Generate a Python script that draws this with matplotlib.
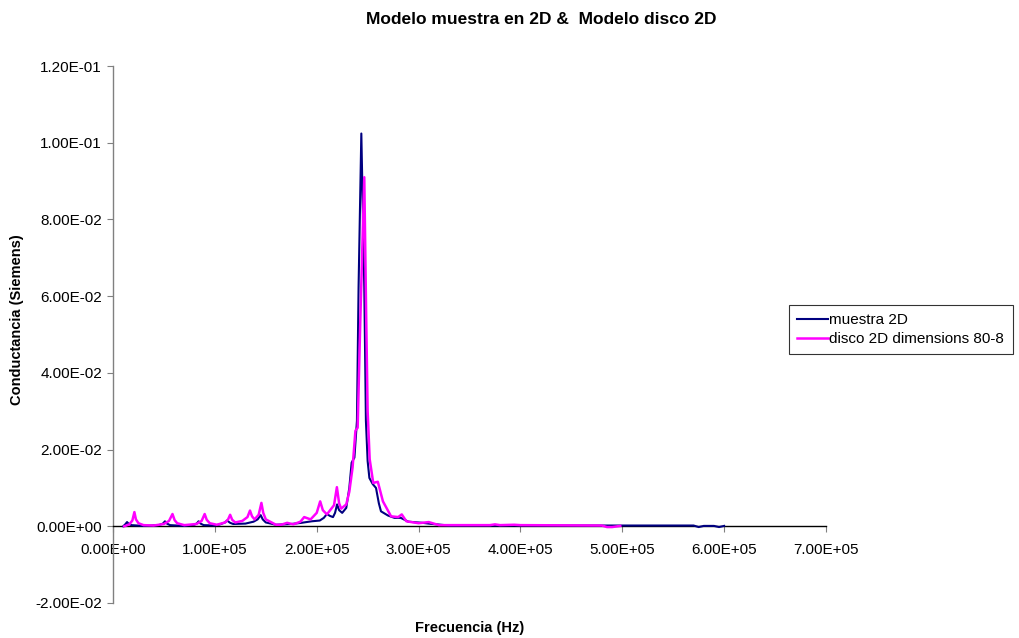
import matplotlib
matplotlib.use("Agg")
import matplotlib.pyplot as plt
from matplotlib.ticker import FuncFormatter

plt.rcParams['font.family'] = ['Liberation Sans', 'DejaVu Sans']

# Data
freq_muestra = [1.0e4, 1.2e4, 1.38e4, 1.55e4, 1.8e4, 3.0e4, 4.5e4, 4.9e4, 5.1e4, 5.3e4, 5.6e4,
                7.0e4, 8.0e4, 8.25e4, 8.4e4, 8.6e4, 8.9e4, 1.0e5, 1.05e5, 1.1e5, 1.12e5, 1.15e5,
                1.18e5, 1.3e5, 1.38e5, 1.42e5, 1.45e5, 1.47e5, 1.5e5, 1.6e5,
                1.75e5, 1.85e5, 1.95e5, 2.03e5, 2.07e5, 2.1e5, 2.13e5, 2.16e5, 2.18e5, 2.2e5,
                2.22e5, 2.25e5, 2.29e5, 2.32e5, 2.343e5, 2.37e5, 2.395e5, 2.411e5, 2.438e5,
                2.467e5, 2.483e5, 2.5e5, 2.517e5, 2.55e5, 2.582e5, 2.61e5, 2.631e5,
                2.7e5, 2.763e5, 2.825e5, 2.9e5, 3.04e5, 3.1e5, 3.3e5, 4.0e5, 5.0e5, 5.7e5,
                5.75e5, 5.8e5, 5.9e5, 5.95e5, 6.0e5]
g_muestra = [0.0, 0.0005, 0.0011, 0.0006, 0.0003, 0.0001, 0.0003, 0.0007, 0.0013, 0.0007, 0.0003,
             0.0001, 0.0004, 0.0008, 0.0013, 0.0007, 0.0003, 0.0002, 0.0005, 0.0010, 0.0015, 0.0009,
             0.0006, 0.0007, 0.0012, 0.0018, 0.0029, 0.0018, 0.0010, 0.0004,
             0.0006, 0.0009, 0.0013, 0.0015, 0.0022, 0.0032, 0.0027, 0.0024, 0.0035, 0.0057,
             0.0042, 0.0035, 0.0048, 0.0100, 0.0166, 0.0179, 0.0275, 0.0624, 0.1024,
             0.0624, 0.0275, 0.0170, 0.0126, 0.0110, 0.0100, 0.0060, 0.0039,
             0.0028, 0.0022, 0.0022, 0.0012, 0.0009, 0.0007, 0.0002, 0.0002, 0.0002, 0.0002,
             -0.0002, 0.0001, 0.0001, -0.0002, 0.0001]

freq_disco = [1.1e4, 1.6e4, 1.9e4, 2.1e4, 2.25e4, 2.5e4, 3.0e4, 4.0e4, 5.0e4, 5.5e4, 5.84e4,
              6.05e4, 6.3e4, 7.0e4, 8.2e4, 8.7e4, 9.0e4, 9.2e4, 9.5e4, 1.02e5, 1.1e5, 1.13e5,
              1.15e5, 1.17e5, 1.2e5, 1.27e5, 1.32e5, 1.345e5, 1.365e5, 1.39e5, 1.43e5,
              1.457e5, 1.475e5, 1.5e5, 1.6e5, 1.65e5, 1.71e5, 1.77e5, 1.84e5, 1.877e5, 1.94e5,
              2.0e5, 2.034e5, 2.06e5, 2.1e5, 2.17e5, 2.198e5, 2.22e5, 2.24e5, 2.29e5, 2.32e5,
              2.352e5, 2.38e5, 2.402e5, 2.428e5, 2.467e5, 2.485e5, 2.5e5, 2.52e5, 2.555e5,
              2.6e5, 2.65e5, 2.73e5, 2.8e5, 2.835e5, 2.88e5, 3.0e5, 3.1e5, 3.2e5, 3.7e5,
              3.75e5, 3.8e5, 3.94e5, 4.0e5, 4.8e5, 4.85e5, 4.9e5, 4.98e5]
g_disco = [0.0, 0.0005, 0.0015, 0.0037, 0.0018, 0.0008, 0.0003, 0.0002, 0.0006, 0.0014, 0.0032,
           0.0016, 0.0008, 0.0003, 0.0006, 0.0014, 0.0032, 0.0017, 0.0008, 0.0004, 0.0010, 0.0018,
           0.0030, 0.0017, 0.0010, 0.0014, 0.0024, 0.0041, 0.0026, 0.0018, 0.0030,
           0.0061, 0.0035, 0.0018, 0.0004, 0.0004, 0.0009, 0.0005, 0.0012, 0.0024, 0.0018,
           0.0035, 0.0065, 0.0042, 0.0031, 0.0055, 0.0102, 0.0060, 0.0046, 0.0057, 0.0090,
           0.0153, 0.0249, 0.0257, 0.0537, 0.0910, 0.0560, 0.0300, 0.0175, 0.0113,
           0.0116, 0.0065, 0.0026, 0.0024, 0.0031, 0.0013, 0.0008, 0.0011, 0.0003, 0.0003,
           0.0005, 0.0003, 0.0004, 0.0003, 0.0002, -0.0002, -0.0002, 0.0001]

x_ticks = [0, 1e5, 2e5, 3e5, 4e5, 5e5, 6e5, 7e5]
y_ticks = [-0.02, 0.0, 0.02, 0.04, 0.06, 0.08, 0.10, 0.12]

fig = plt.figure(figsize=(10.19, 6.38), dpi=100)
ax = fig.add_axes([113/1019, 1 - 603/638, (826 - 113)/1019, (603 - 66)/638])

ax.plot(freq_muestra, g_muestra, color='#000080', lw=1.5, label='muestra 2D', zorder=3)
ax.plot(freq_disco, g_disco, color='#FF00FF', lw=1.8, label='disco 2D dimensions 80-8', zorder=4)

ax.set_xlim(0, 7e5)
ax.set_ylim(-0.02, 0.12)

def sci(v, pos):
    return "%.2E" % v

ax.xaxis.set_major_locator(plt.FixedLocator(x_ticks))
ax.yaxis.set_major_locator(plt.FixedLocator(y_ticks))
ax.xaxis.set_major_formatter(FuncFormatter(sci))
ax.yaxis.set_major_formatter(FuncFormatter(sci))

for s in ['top', 'right']:
    ax.spines[s].set_visible(False)
ax.spines['bottom'].set_position(('data', 0))
ax.spines['left'].set_color('#808080')
ax.spines['bottom'].set_color('#000000')
ax.spines['left'].set_linewidth(1.0)
ax.spines['bottom'].set_linewidth(1.0)

ax.tick_params(axis='x', direction='out', length=4, color='#808080', labelsize=11, pad=8)
ax.tick_params(axis='y', direction='out', length=4, color='#808080', labelsize=11, pad=4)

fig.text(541/1019, 1 - 20/638, 'Modelo muestra en 2D &  Modelo disco 2D', ha='center', va='center',
         fontsize=12.5, fontweight='bold')
fig.text(470/1019, 1 - 628/638, 'Frecuencia (Hz)', ha='center', va='center',
         fontsize=10.5, fontweight='bold')
fig.text(17/1019, 1 - 320/638, 'Conductancia (Siemens)', ha='center', va='center',
         rotation=90, fontsize=10.5, fontweight='bold')

leg = fig.legend(loc='upper left', bbox_to_anchor=(789/1019, 1 - 305/638), frameon=True,
                 fancybox=False, edgecolor='black', fontsize=11, handlelength=2.0,
                 handletextpad=0.1, borderpad=0.55, labelspacing=0.3, borderaxespad=0)
leg.get_frame().set_linewidth(0.8)

fig.savefig('out.png', dpi=100)
